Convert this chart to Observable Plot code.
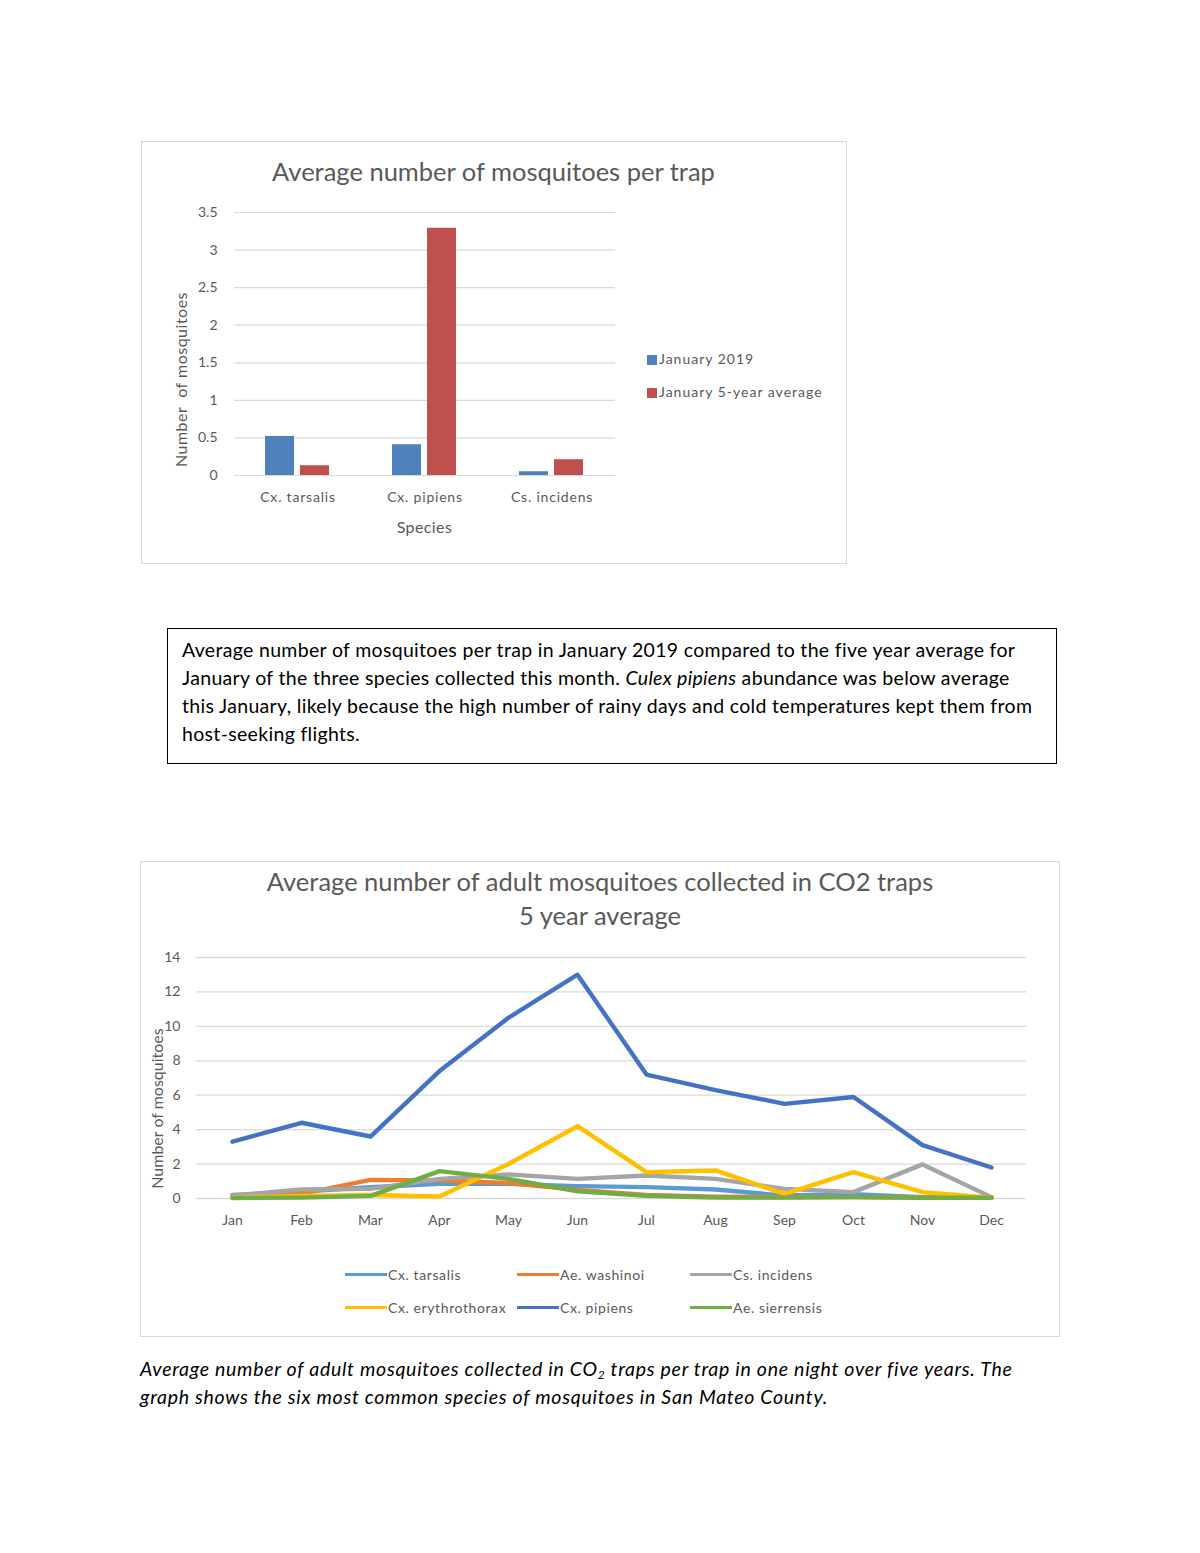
<!DOCTYPE html>
<html>
<head>
<meta charset="utf-8">
<script src="https://cdn.jsdelivr.net/npm/d3@7"></script>
<script src="https://cdn.jsdelivr.net/npm/@observablehq/plot@0.6"></script>
<style>
  html, body { margin: 0; padding: 0; background: #fff; }
  body { width: 1200px; height: 1553px; position: relative; font-family: Lato, "Open Sans", sans-serif; color: #595959; overflow: hidden; }
  .abs { position: absolute; }
  .box { border: 1px solid #d9d9d9; box-sizing: border-box; }
  .title { font-size: 25.5px; color: #595959; text-align: center; white-space: nowrap; }
  .ylab { font-size: 16px; color: #595959; transform: rotate(-90deg); transform-origin: center center; white-space: nowrap; text-align: center; }
  .leg { font-size: 14px; color: #595959; white-space: nowrap; letter-spacing: 1px; }
  .sq { display: inline-block; width: 10px; height: 10px; margin-right: 2px; vertical-align: -1px; }
  .ln { display: inline-block; width: 42px; height: 3px; vertical-align: 4px; margin-right: 1px; }
  .textbox { border: 1.5px solid #000; box-sizing: border-box; font-size: 19.5px; line-height: 28px; color: #000; padding: 7px 14px; white-space: nowrap; letter-spacing: 0.32px; }
  .caption { font-size: 19.5px; line-height: 28px; color: #000; font-style: italic; white-space: nowrap; letter-spacing: 0.72px; }
  .caption sub { font-size: 12px; line-height: 0; vertical-align: -3px; }
  svg text { font-family: Lato, "Open Sans", sans-serif; }
</style>
</head>
<body>
<script>
// ---------- Chart 1 data ----------
const species = ["Cx. tarsalis", "Cx. pipiens", "Cs. incidens"];
const barSeries = ["January 2019", "January 5-year average"];
const jan2019 = [0.52, 0.41, 0.05];
const jan5yr = [0.13, 3.29, 0.21];
const barColors = ["#4F81BD", "#C0504D"];
const barTicks = [0, 0.5, 1, 1.5, 2, 2.5, 3, 3.5];

// ---------- Chart 2 data ----------
const months = ["Jan","Feb","Mar","Apr","May","Jun","Jul","Aug","Sep","Oct","Nov","Dec"];
const lineSeries = ["Cx. tarsalis","Ae. washinoi","Cs. incidens","Cx. erythrothorax","Cx. pipiens","Ae. sierrensis"];
const cxTarsalis      = [0.2, 0.4, 0.65, 0.85, 0.85, 0.72, 0.66, 0.52, 0.17, 0.25, 0.08, 0.05];
const aeWashinoi      = [0.1, 0.27, 1.08, 1.05, 0.9, 0.5, 0.2, 0.1, 0.08, 0.08, 0.05, 0.05];
const csIncidens      = [0.17, 0.52, 0.56, 1.14, 1.4, 1.14, 1.34, 1.14, 0.56, 0.37, 1.98, 0.08];
const cxErythrothorax = [0.05, 0.15, 0.2, 0.12, 2.0, 4.2, 1.53, 1.63, 0.27, 1.53, 0.37, 0.05];
const cxPipiens       = [3.3, 4.4, 3.6, 7.4, 10.5, 13.0, 7.2, 6.3, 5.5, 5.9, 3.1, 1.8];
const aeSierrensis    = [0.03, 0.05, 0.15, 1.59, 1.14, 0.42, 0.15, 0.06, 0.05, 0.08, 0.04, 0.04];
const lineColors = ["#5B9BD5","#ED7D31","#A5A5A5","#FFC000","#4472C4","#70AD47"];
const lineTicks = [0, 2, 4, 6, 8, 10, 12, 14];

function el(tag, cls, style, html) {
  const e = document.createElement(tag);
  if (cls) e.className = cls;
  Object.assign(e.style, style || {});
  if (html != null) e.innerHTML = html;
  document.body.appendChild(e);
  return e;
}

// ---------- Chart 1 ----------
const barData = [];
species.forEach((s, i) => {
  barData.push({species: s, series: barSeries[0], value: jan2019[i]});
  barData.push({species: s, series: barSeries[1], value: jan5yr[i]});
});

el("div", "abs box", {left: "141px", top: "141px", width: "706px", height: "423px"});

const bar = Plot.plot({
  width: 705, height: 422,
  marginLeft: 92, marginRight: 230, marginTop: 71, marginBottom: 88,
  style: {fontSize: "14px", color: "#595959", background: "transparent", overflow: "visible"},
  fx: {domain: species, padding: 0, label: null, tickSize: 0, tickPadding: 17},
  x: {domain: barSeries, axis: null, paddingInner: 0.17, paddingOuter: 0.86},
  y: {domain: [0, 3.5], ticks: barTicks, label: null, tickSize: 0, tickPadding: 17, tickFormat: d => String(d)},
  color: {domain: barSeries, range: barColors},
  marks: [
    Plot.gridY(barTicks, {stroke: "#d9d9d9", strokeOpacity: 1, strokeWidth: 1.2}),
    Plot.barY(barData, {fx: "species", x: "series", y: "value", fill: "series"})
  ]
});
bar.style.position = "absolute";
bar.style.left = "141px";
bar.style.top = "141px";
bar.querySelectorAll("g[aria-label='fx-axis tick label'] text, g[aria-label='fx-axis tick label']").forEach(t => t.style.letterSpacing = "0.8px");
document.body.appendChild(bar);

el("div", "abs title", {left: "141px", width: "705px", top: "156px"}, "Average number of mosquitoes per trap");
el("div", "abs ylab", {left: "80px", top: "370px", width: "200px", letterSpacing: "0.5px"}, "Number&nbsp; of mosquitoes");
el("div", "abs", {left: "233px", width: "383px", top: "517px", fontSize: "16px", textAlign: "center", color: "#595959", letterSpacing: "0.4px"}, "Species");
el("div", "abs leg", {left: "647px", top: "350px"}, `<span class="sq" style="background:${barColors[0]}"></span>${barSeries[0]}`);
el("div", "abs leg", {left: "647px", top: "383px"}, `<span class="sq" style="background:${barColors[1]}"></span>${barSeries[1]}`);

// ---------- Text box ----------
el("div", "abs textbox", {left: "167px", top: "628px", width: "890px", height: "136px"},
  "Average number of mosquitoes per trap in January 2019 compared to the five year average for<br>January of the three species collected this month. <i>Culex pipiens</i> abundance was below average<br>this January, likely because the high number of rainy days and cold temperatures kept them from<br>host-seeking flights.");

// ---------- Chart 2 ----------
const lineArrays = [cxTarsalis, aeWashinoi, csIncidens, cxErythrothorax, cxPipiens, aeSierrensis];
const lineData = [];
lineSeries.forEach((s, k) => months.forEach((m, i) => lineData.push({series: s, month: m, value: lineArrays[k][i]})));

el("div", "abs box", {left: "140px", top: "861px", width: "920px", height: "476px"});

const line = Plot.plot({
  width: 920, height: 475,
  marginLeft: 56, marginRight: 34, marginTop: 96, marginBottom: 138,
  style: {fontSize: "14px", color: "#595959", background: "transparent", overflow: "visible"},
  x: {domain: months, type: "point", padding: 0.5, label: null, tickSize: 0, tickPadding: 17},
  y: {domain: [0, 14], ticks: lineTicks, label: null, tickSize: 0, tickPadding: 16},
  color: {domain: lineSeries, range: lineColors},
  marks: [
    Plot.gridY(lineTicks, {stroke: "#d9d9d9", strokeOpacity: 1, strokeWidth: 1.3}),
    Plot.line(lineData, {x: "month", y: "value", z: "series", stroke: "series", strokeWidth: 4.4, strokeLinejoin: "round", strokeLinecap: "round"})
  ]
});
line.style.position = "absolute";
line.style.left = "140px";
line.style.top = "861px";
document.body.appendChild(line);

el("div", "abs title", {left: "140px", width: "920px", top: "864px", lineHeight: "34px"}, "Average number of adult mosquitoes collected in CO2 traps<br>5 year average");
el("div", "abs ylab", {left: "56px", top: "1099px", width: "200px"}, "Number of mosquitoes");

const legPos = [[345, 1266], [517, 1266], [690, 1266], [345, 1299], [517, 1299], [690, 1299]];
lineSeries.forEach((s, k) => {
  el("div", "abs leg", {left: legPos[k][0] + "px", top: legPos[k][1] + "px", letterSpacing: "0.6px"},
    `<span class="ln" style="background:${lineColors[k]}"></span>${s}`);
});

el("div", "abs caption", {left: "140px", top: "1355px"},
  "Average number of adult mosquitoes collected in CO<sub>2</sub> traps per trap in one night over five years. The<br>graph shows the six most common species of mosquitoes in San Mateo County.");
</script>
</body>
</html>
